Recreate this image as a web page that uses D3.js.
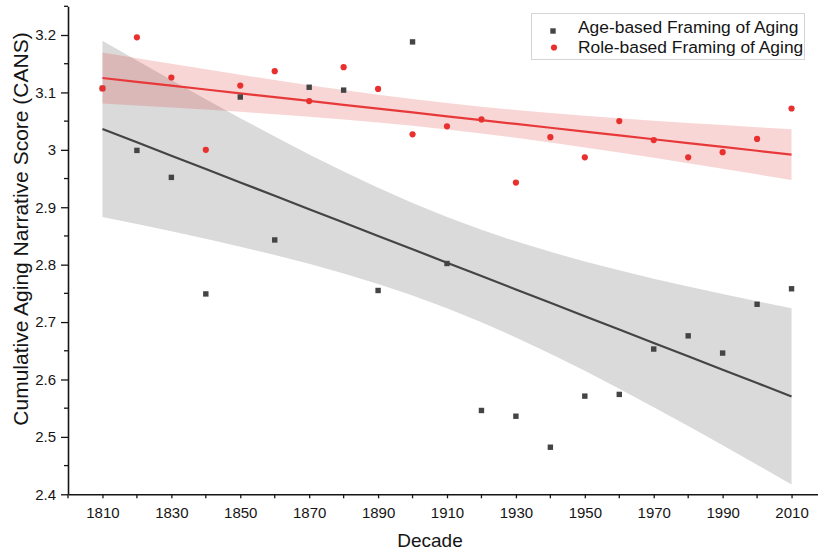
<!DOCTYPE html>
<html><head><meta charset="utf-8">
<script src="https://cdn.jsdelivr.net/npm/d3@7"></script>
<style>body{margin:0;background:#fff}svg{display:block;font-family:"Liberation Sans",Arial,sans-serif}</style>
</head><body><svg id="c" width="818" height="554"></svg>
<script>
const decades = [1810,1820,1830,1840,1850,1860,1870,1880,1890,1900,1910,1920,1930,1940,1950,1960,1970,1980,1990,2000,2010];
const ageBased = [3.107,2.999,2.952,2.749,3.092,2.843,3.109,3.104,2.755,3.188,2.802,2.546,2.536,2.482,2.571,2.574,2.653,2.676,2.646,2.731,2.758];
const roleBased = [3.107,3.196,3.126,3.000,3.112,3.137,3.085,3.144,3.106,3.027,3.041,3.053,2.943,3.022,2.987,3.050,3.017,2.987,2.996,3.019,3.072];
const seriesNames = ["Age-based Framing of Aging","Role-based Framing of Aging"];
const xTickLabels = [1810,1830,1850,1870,1890,1910,1930,1950,1970,1990,2010];
const yTickLabels = [2.4,2.5,2.6,2.7,2.8,2.9,3.0,3.1,3.2];
const tCrit = 2.093; // t(0.975, df=19)

const svg = d3.select("#c");
const x = d3.scaleLinear().domain([1800,2020]).range([68,826]);
const y = d3.scaleLinear().domain([2.4,3.25]).range([494.3,6.3]);

function fit(xs, ys){
  const n = xs.length, mx = d3.mean(xs), my = d3.mean(ys);
  let sxx=0, sxy=0;
  xs.forEach((v,i)=>{sxx+=(v-mx)*(v-mx); sxy+=(v-mx)*(ys[i]-my);});
  const b = sxy/sxx, a = my - b*mx;
  let sse=0; xs.forEach((v,i)=>{const r=ys[i]-(a+b*v); sse+=r*r;});
  const s = Math.sqrt(sse/(n-2));
  return xs.map(v=>{const p=a+b*v; const h=tCrit*s*Math.sqrt(1/n+(v-mx)*(v-mx)/sxx); return {x:v,p:p,lo:p-h,hi:p+h};});
}
const fa = fit(decades, ageBased), fr = fit(decades, roleBased);
const area = d3.area().x(d=>x(d.x)).y0(d=>y(d.lo)).y1(d=>y(d.hi));
const line = d3.line().x(d=>x(d.x)).y(d=>y(d.p));

svg.append("path").attr("d",area(fa)).attr("fill","#dadada");
svg.append("path").attr("d",area(fr)).attr("fill","rgba(224,50,50,0.2)");
svg.append("path").attr("d",line(fa)).attr("fill","none").attr("stroke","#444").attr("stroke-width",2.2);
svg.append("path").attr("d",line(fr)).attr("fill","none").attr("stroke","#e8393a").attr("stroke-width",2.2);

svg.append("g").selectAll("rect").data(decades).join("rect")
  .attr("x",(d)=>x(d)-2.7).attr("y",(d,i)=>y(ageBased[i])-2.7).attr("width",5.4).attr("height",5.4).attr("fill","#444");
svg.append("g").selectAll("circle").data(decades).join("circle")
  .attr("cx",d=>x(d)).attr("cy",(d,i)=>y(roleBased[i])).attr("r",3.1).attr("fill","#e8302f");

const ink = "#151515";
// axes
const xAxis = d3.axisBottom(x).tickValues(xTickLabels).tickFormat(d3.format("d")).tickSize(4).tickSizeOuter(0);
const gx = svg.append("g").attr("transform","translate(0,494.3)").call(xAxis);
gx.append("g").selectAll("line").data([1800,1820,1840,1860,1880,1900,1920,1940,1960,1980,2000,2020]).join("line")
  .attr("x1",d=>x(d)).attr("x2",d=>x(d)).attr("y1",0).attr("y2",4).attr("stroke",ink).attr("stroke-width",1.3);
gx.selectAll(".tick line").attr("stroke",ink).attr("stroke-width",1.3);
gx.select(".domain").attr("stroke",ink).attr("stroke-width",1.6);
gx.selectAll(".tick text").attr("font-size",15).attr("fill",ink).attr("dy","1.1em").attr("font-family","Liberation Sans, Arial");

const yAxis = d3.axisLeft(y).tickValues(yTickLabels).tickFormat(d=>d3.format("~g")(d)).tickSize(7).tickSizeOuter(0);
const gy = svg.append("g").attr("transform","translate(68,0)").call(yAxis);
gy.append("g").selectAll("line").data([2.45,2.55,2.65,2.75,2.85,2.95,3.05,3.15,3.25]).join("line")
  .attr("x1",-4).attr("x2",0).attr("y1",d=>y(d)).attr("y2",d=>y(d)).attr("stroke",ink).attr("stroke-width",1.3);
gy.selectAll(".tick line").attr("stroke",ink).attr("stroke-width",1.3);
gy.select(".domain").attr("stroke",ink).attr("stroke-width",1.6);
gy.selectAll(".tick text").attr("font-size",15).attr("fill",ink).attr("x",-12).attr("font-family","Liberation Sans, Arial");

svg.append("text").attr("x",430).attr("y",547).attr("text-anchor","middle").attr("font-size",19).attr("fill",ink).text("Decade");
svg.append("text").attr("transform","translate(28,229) rotate(-90)").attr("text-anchor","middle").attr("font-size",21).attr("fill",ink).text("Cumulative Aging Narrative Score (CANS)");

// legend
const lg = svg.append("g");
lg.append("rect").attr("x",531.5).attr("y",13.5).attr("width",273).attr("height",46).attr("fill","#fff").attr("stroke","#d4d4d4").attr("stroke-width",1);
lg.append("rect").attr("x",553-2.7).attr("y",31-2.7).attr("width",5.4).attr("height",5.4).attr("fill","#444");
lg.append("circle").attr("cx",554).attr("cy",47.5).attr("r",3.1).attr("fill","#e8302f");
lg.selectAll("text.l").data(seriesNames).join("text").attr("class","l")
  .attr("x",578).attr("y",(d,i)=>33+i*20).attr("font-size",17.4).attr("fill",ink).text(d=>d);
</script></body></html>
